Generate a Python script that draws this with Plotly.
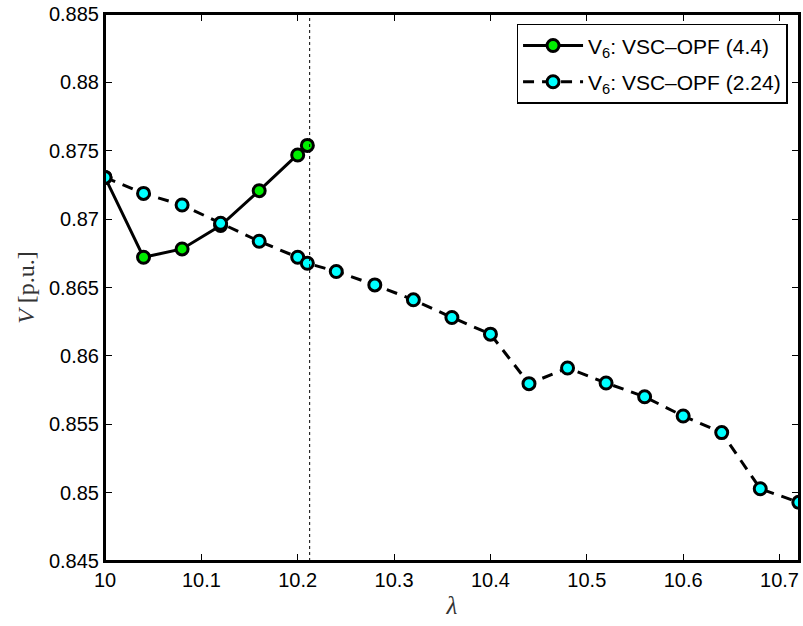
import plotly.graph_objects as go

# Data
lam_a = [10.0, 10.04, 10.08, 10.12, 10.16, 10.2, 10.21]
v_a = [0.87305, 0.86721, 0.86782, 0.86953, 0.87208, 0.87469, 0.87539]

lam_b = [10.0, 10.04, 10.08, 10.12, 10.16, 10.2, 10.21, 10.24, 10.28, 10.32,
         10.36, 10.4, 10.44, 10.48, 10.52, 10.56, 10.6, 10.64, 10.68, 10.72]
v_b = [0.87305, 0.87188, 0.87103, 0.86969, 0.86838, 0.86721, 0.86677, 0.86617,
       0.86519, 0.86410, 0.86281, 0.86159, 0.85797, 0.85911, 0.85802, 0.85701,
       0.85560, 0.85439, 0.85028, 0.84929]

name_a = "V<sub>6</sub>: VSC\u2013OPF (4.4)"
name_b = "V<sub>6</sub>: VSC\u2013OPF (2.24)"
lam_limit = 10.2124

x_ticks = [10, 10.1, 10.2, 10.3, 10.4, 10.5, 10.6, 10.7]
y_ticks = [0.845, 0.85, 0.855, 0.86, 0.865, 0.87, 0.875, 0.88, 0.885]

fig = go.Figure()
fig.add_trace(go.Scatter(
    x=lam_a, y=v_a, name=name_a, mode="lines+markers", legendgroup="a",
    line=dict(color="black", width=3),
    marker=dict(size=12, color="#00ee00", line=dict(color="black", width=3)),
))
fig.add_trace(go.Scatter(
    x=lam_b, y=v_b, name=name_b, mode="lines+markers", legendgroup="b",
    line=dict(color="black", width=3, dash="11px,8px"),
    marker=dict(size=12, color="#00ffff", line=dict(color="black", width=3)),
))

fig.add_shape(type="line", xref="x", yref="paper", x0=lam_limit, x1=lam_limit,
              y0=0, y1=1, line=dict(color="black", width=1, dash="dot"))
# axes box (MATLAB style)
fig.add_shape(type="rect", xref="paper", yref="paper", x0=0, x1=1, y0=0, y1=1,
              line=dict(color="black", width=2), layer="above")

tickfont = dict(family="Liberation Sans, Arial", size=20, color="black")
fig.update_layout(
    width=803, height=626,
    margin=dict(l=105, r=4, t=14, b=65),
    paper_bgcolor="white", plot_bgcolor="white",
    showlegend=True,
    legend=dict(
        x=0.9835, y=0.982, xanchor="right", yanchor="top",
        bgcolor="white", bordercolor="black", borderwidth=1.5,
        font=dict(family="Liberation Sans, Arial", size=21, color="black"),
        itemwidth=60, tracegroupgap=6, traceorder="grouped",
    ),
    xaxis=dict(
        range=[10, 10.7202], tickvals=x_ticks, ticktext=[f"{t:g}" for t in x_ticks],
        ticks="inside", ticklen=7, tickcolor="black", tickwidth=1.2,
        showline=True, linecolor="black", linewidth=2, mirror="ticks",
        showgrid=False, zeroline=False, tickfont=tickfont, automargin=False,
        ticklabeloverflow="allow",
        title=dict(text="<i>λ</i>", font=dict(family="Liberation Serif, Times New Roman", size=25, color="#333"), standoff=6),
    ),
    yaxis=dict(
        range=[0.845, 0.885], tickvals=y_ticks, ticktext=[f"{t:g}" for t in y_ticks],
        ticks="inside", ticklen=7, tickcolor="black", tickwidth=1.2,
        showline=True, linecolor="black", linewidth=2, mirror="ticks",
        showgrid=False, zeroline=False, tickfont=tickfont, automargin=False,
        ticklabeloverflow="allow",
        title=dict(text="<i>V</i> [p.u.]", font=dict(family="Liberation Serif, Times New Roman", size=24, color="#333"), standoff=8),
    ),
)

fig.write_html("out.html", config={"displayModeBar": False},
               post_script="document.body.style.margin='0';document.body.style.overflow='hidden';")
